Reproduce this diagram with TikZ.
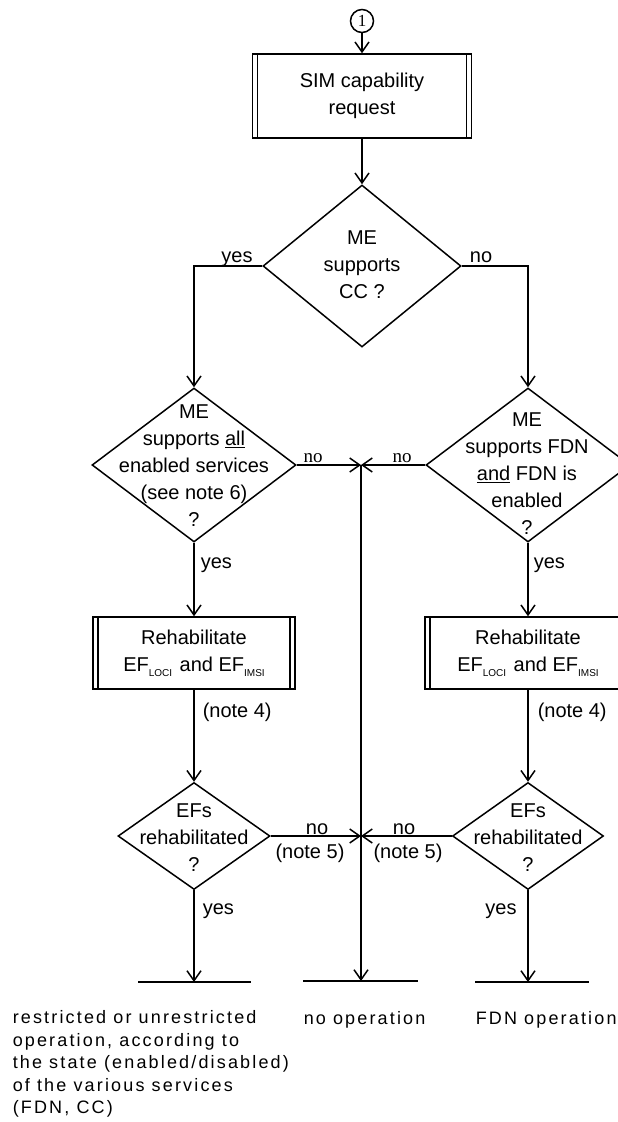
\documentclass[tikz,border=0pt]{standalone}
\usepackage{fontspec}
\setmainfont{Liberation Sans}
\newfontfamily\tnr{Liberation Serif}
\newfontfamily\spc[LetterSpace=12]{Liberation Sans}
\usetikzlibrary{arrows.meta,shapes.geometric}
\newcommand\efsub[1]{\raisebox{-5pt}{\fontsize{10}{10}\selectfont #1}\hspace{2pt}}
\tikzset{
  box/.style={draw, rectangle, inner sep=0pt, align=center,
    path picture={
      \draw ([xshift=5pt]path picture bounding box.north west) -- ([xshift=5pt]path picture bounding box.south west);
      \draw ([xshift=-5pt]path picture bounding box.north east) -- ([xshift=-5pt]path picture bounding box.south east);
    }},
  dia/.style={draw, diamond, inner sep=0pt},
  txt/.style={align=center, inner sep=0pt},
  lbl/.style={inner sep=0pt},
  serifno/.style={inner sep=0pt, font=\tnr\fontsize{19}{19}\selectfont},
  endline/.style={line width=1.5pt},
  bottomtxt/.style={inner sep=0pt, align=left, font=\spc\fontsize{18}{22.5}\selectfont},
}
\begin{document}
\begin{tikzpicture}[x=1pt, y=-1pt, line width=1.5pt,
  >={Straight Barb[length=10pt,width=14pt]},
  font=\fontsize{20}{27}\selectfont]
\clip (0,0) rectangle (618,1122);
\fill[white] (0,0) rectangle (618,1122);

% nodes
\node[circle, draw, minimum size=23pt, inner sep=0pt, font=\tnr\fontsize{17}{17}\selectfont] (c1) at (362,21) {1};
\node[box, minimum width=219pt, minimum height=84pt] (b1) at (362,96) {SIM capability\\request};

\node[dia, minimum width=198pt, minimum height=162pt] (d1) at (362,266) {};
\node[txt] (d1t) at (362,265) {ME\\supports\\CC ?};

\node[dia, minimum width=204pt, minimum height=154pt] (d2) at (194,465) {};
\node[txt] (d2t) at (194,466) {ME\\supports \underline{all}\\enabled services\\(see note 6)\\?};

\node[dia, minimum width=204pt, minimum height=154pt] (d3) at (528,465) {};
\node[txt] (d3t) at (527,474) {ME\\supports FDN\\\underline{and} FDN is\\enabled\\?};

\node[box, minimum width=202pt, minimum height=72pt] (b2) at (194,653) {Rehabilitate\\EF\efsub{LOCI} and EF\efsub{IMSI}};
\node[box, minimum width=206pt, minimum height=72pt] (b3) at (528,653) {Rehabilitate\\EF\efsub{LOCI} and EF\efsub{IMSI}};

\node[dia, minimum width=152pt, minimum height=107pt] (d4) at (194,836) {};
\node[txt] (d4t) at (194,838) {EFs\\rehabilitated\\?};
\node[dia, minimum width=151pt, minimum height=107pt] (d5) at (528,836) {};
\node[txt] (d5t) at (528,838) {EFs\\rehabilitated\\?};

\coordinate (m1) at (361,465);
\coordinate (m2) at (361,836);

% end lines
\coordinate (e1) at (194,982);
\coordinate (e1a) at (138,982);
\coordinate (e1b) at (251,982);
\coordinate (e2) at (361,981);
\coordinate (e2a) at (303,981);
\coordinate (e2b) at (418,981);
\coordinate (e3) at (528,982);
\coordinate (e3a) at (475,982);
\coordinate (e3b) at (589,982);
\draw[endline] (e1a) -- (e1b);
\draw[endline] (e2a) -- (e2b);
\draw[endline] (e3a) -- (e3b);

% connectors
\draw[->] (c1) -- (b1);
\draw[->] (b1) -- (d1);
\draw[->] (d1.west) -| (d2.north);
\draw[->] (d1.east) -| (d3.north);
\draw[->] (d2.east) -- (m1);
\draw[->] (d3.west) -- (m1);
\draw[->] (m1) -- (e2);
\draw[->] (d2.south) -- (b2.north);
\draw[->] (d3.south) -- (b3.north);
\draw[->] (b2.south) -- (d4.north);
\draw[->] (b3.south) -- (d5.north);
\draw[->] (d4.east) -- (m2);
\draw[->] (d5.west) -- (m2);
\draw[->] (d4.south) -- (e1);
\draw[->] (d5.south) -- (e3);

% labels
\node[lbl, anchor=base] (l1) at (237,262) {yes};
\node[lbl, anchor=base] (l2) at (481,262) {no};
\node[serifno, anchor=base] (l3) at (313,462) {no};
\node[serifno, anchor=base] (l4) at (402,462) {no};
\node[lbl, anchor=base west] (l5) at (200,568) {yes};
\node[lbl, anchor=base west] (l6) at (533,568) {yes};
\node[lbl, anchor=base west] (l7) at (202,717) {(note 4)};
\node[lbl, anchor=base west] (l8) at (537,717) {(note 4)};
\node[lbl, anchor=base] (l9) at (317,834) {no};
\node[lbl, anchor=base] (l10) at (310,858) {(note 5)};
\node[lbl, anchor=base] (l11) at (404,834) {no};
\node[lbl, anchor=base] (l12) at (408,858) {(note 5)};
\node[lbl, anchor=base west] (l13) at (202,914) {yes};
\node[lbl, anchor=base] (l14) at (501,914) {yes};

% bottom texts
\node[bottomtxt, anchor=north west] (t1) at (12,1010) {restricted or unrestricted\\operation, according to\\the state (enabled/disabled)\\of the various services\\(FDN, CC)};
\node[bottomtxt, anchor=base west] (t2) at (303,1024) {no operation};
\node[bottomtxt, anchor=base west] (t3) at (475,1024) {FDN operation};
\end{tikzpicture}
\end{document}
